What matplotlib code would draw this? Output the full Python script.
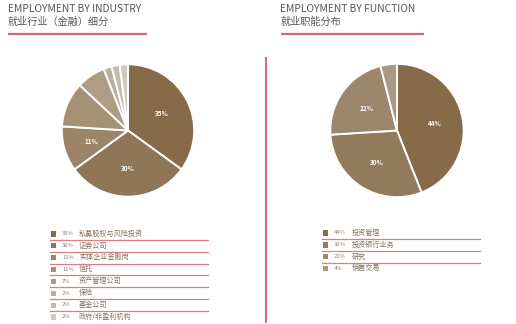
import matplotlib
matplotlib.use("Agg")
import matplotlib.pyplot as plt

plt.rcParams['font.family'] = ['Noto Sans CJK SC', 'DejaVu Sans']

W, H = 516, 324

industry_labels = ['私募股权与风险投资', '证券公司', '实体企业金融岗', '信托',
                   '资产管理公司', '保险', '基金公司', '政府/非盈利机构']
industry_values = [35, 30, 11, 11, 7, 2, 2, 2]
industry_shown = [True, True, True, False, False, False, False, False]
industry_colors = ['#876a4a', '#8f7658', '#9c8468', '#a59174', '#ae9d85',
                   '#bcae9b', '#c6bbab', '#d2c9bc']

function_labels = ['投资管理', '投资银行业务', '研究', '销售交易']
function_values = [44, 30, 22, 4]
function_shown = [True, True, True, False]
function_colors = ['#876a4a', '#927a5d', '#9d876c', '#aa9880']

red = '#d4696f'

fig = plt.figure(figsize=(W / 100, H / 100), dpi=100)


def px_axes(x0, y0, x1, y1):
    # axes from pixel box (top-left origin)
    return fig.add_axes([x0 / W, 1 - y1 / H, (x1 - x0) / W, (y1 - y0) / H])


def draw_pie(cx, cy, r, values, shown, colors):
    ax = px_axes(cx - r, cy - r, cx + r, cy + r)
    labels = [f'{v}%' if s else '' for v, s in zip(values, shown)]
    wedges, texts = ax.pie(values, colors=colors, startangle=90, counterclock=False,
                           labels=labels, labeldistance=0.57,
                           wedgeprops=dict(edgecolor='white', linewidth=1.4),
                           textprops=dict(color='white', fontsize=4.6, fontweight='bold'))
    for t in texts:
        t.set_ha('center')
        t.set_va('center')
    ax.set_xlim(-1.02, 1.02)
    ax.set_ylim(-1.02, 1.02)
    ax.axis('off')


draw_pie(128, 130.5, 67.5, industry_values, industry_shown, industry_colors)
draw_pie(397, 130.5, 68, function_values, function_shown, function_colors)

# overlay axes for text and lines in pixel coords
ov = fig.add_axes([0, 0, 1, 1], zorder=-1)
ov.set_xlim(0, W)
ov.set_ylim(H, 0)
ov.axis('off')

title_color = '#575757'
ov.text(7.5, 9, 'EMPLOYMENT BY INDUSTRY', fontsize=7.4, color=title_color, va='center')
ov.text(7.5, 22, '就业行业（金融）细分', fontsize=7.3, color=title_color, va='center')
ov.plot([8, 147], [33.5, 33.5], color=red, lw=1.6, solid_capstyle='butt')

ov.text(280.5, 9, 'EMPLOYMENT BY FUNCTION', fontsize=7.4, color=title_color, va='center')
ov.text(280.5, 22, '就业职能分布', fontsize=7.3, color=title_color, va='center')
ov.plot([281, 424], [33.5, 33.5], color=red, lw=1.6, solid_capstyle='butt')

ov.plot([265.5, 265.5], [57, 323], color=red, lw=1.4, solid_capstyle='butt')


def draw_legend(x_sq, x_pct, x_lab, y0, dy, x_line_end, labels, values, colors):
    n = len(labels)
    for i, (lab, v, c) in enumerate(zip(labels, values, colors)):
        y = y0 + i * dy
        ov.add_patch(plt.Rectangle((x_sq, y - 2.6), 5.2, 5.2, color=c, lw=0))
        ov.text(x_pct, y - 0.2, f'{v}%', fontsize=4.2, color='#8f806e', va='center')
        ov.text(x_lab, y - 0.3, lab, fontsize=5.1, color='#86735e', va='center')
        if i < n - 1:
            ly = y + dy / 2
            ov.plot([x_sq - 1, x_line_end], [ly, ly], color=red, lw=0.9, alpha=0.85)


draw_legend(51, 62, 79, 234, 11.85, 208, industry_labels, industry_values, industry_colors)
draw_legend(323, 334, 352, 233, 11.9, 480, function_labels, function_values, function_colors)

fig.savefig('out.png', dpi=100)
